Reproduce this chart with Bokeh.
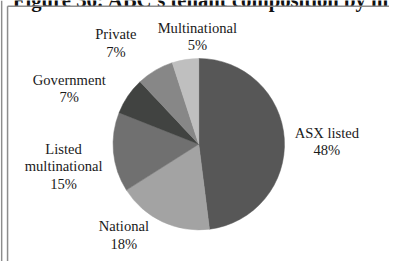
import math
from bokeh.plotting import figure
from bokeh.models import ColumnDataSource, Range1d
from bokeh.core.properties import value
from bokeh.embed import file_html
from bokeh.resources import INLINE

# ---- data ----
title_text = "Figure 36: ABC's tenant composition by m"
categories = ["ASX listed", "National", "Listed multinational", "Government", "Private", "Multinational"]
shares = [48, 18, 15, 7, 7, 5]
label_lines = [["ASX listed", "48%"], ["National", "18%"], ["Listed", "multinational", "15%"],
               ["Government", "7%"], ["Private", "7%"], ["Multinational", "5%"]]

# ---- styles / layout (reference pixel space 413x277, y measured down from top) ----
colors = ["#575757", "#a3a3a3", "#707070", "#414341", "#878787", "#bfbfbf"]
CX, CY, R = 210.5, 152.5, 91
label_centre = [(346.5, 149.5), (131, 249), (67, 176), (73, 93.5), (122.5, 45), (209, 38.5)]
LINE_H = 18.5
W, H = 413, 277
SCALE = 261 / 277.0
PW, PH = int(round(W * SCALE)), 261

def Y(y):  # reference pixel y (down) -> data y (up)
    return H - y

def fs(px):
    return "%.1fpx" % (px * SCALE)

p = figure(width=PW, height=PH, output_backend="svg", toolbar_location=None,
           x_range=Range1d(0, W), y_range=Range1d(0, H),
           min_border=0, background_fill_color="white", border_fill_color="white")
p.axis.visible = False
p.grid.visible = False
p.outline_line_color = None

total = float(sum(shares))
starts, ends = [], []
acc = 0.0
for s in shares:
    a0 = math.pi / 2 - 2 * math.pi * acc / total
    acc += s
    a1 = math.pi / 2 - 2 * math.pi * acc / total
    starts.append(a0)
    ends.append(a1)

src = ColumnDataSource(dict(cat=categories, share=shares, start=starts, end=ends, color=colors,
                            x=[CX] * len(shares), y=[Y(CY)] * len(shares)))
p.wedge(x="x", y="y", radius=R, start_angle="start", end_angle="end", direction="clock",
        fill_color="color", line_color="color", line_width=0.5, source=src)

# labels
tx, ty, tt = [], [], []
for lines, (lx, ly) in zip(label_lines, label_centre):
    n = len(lines)
    for k, t in enumerate(lines):
        tx.append(lx)
        ty.append(Y(ly + (k - (n - 1) / 2) * LINE_H))
        tt.append(t)
p.text(x=tx, y=ty, text=tt, text_font=value("Liberation Serif"), text_font_size=fs(15.5),
       text_color="#1a1a1a", text_align="center", text_baseline="middle")

# document caption above the box (cut off at the top edge, as in the reference)
p.text(x=[13], y=[Y(-0.5)], text=[title_text], text_font=value("Liberation Serif"),
       text_font_style="bold", text_font_size=fs(22), text_color="#111111",
       text_align="left", text_baseline="alphabetic")

# frame lines of the surrounding box
p.segment(x0=[1.2, 7.5, 7.5], y0=[Y(0), Y(6), Y(6)], x1=[1.2, 7.5, W], y1=[Y(H), Y(H), Y(6)],
          line_color="#8c8c8c", line_width=1.5)

open("out.html", "w").write(file_html(p, INLINE))
